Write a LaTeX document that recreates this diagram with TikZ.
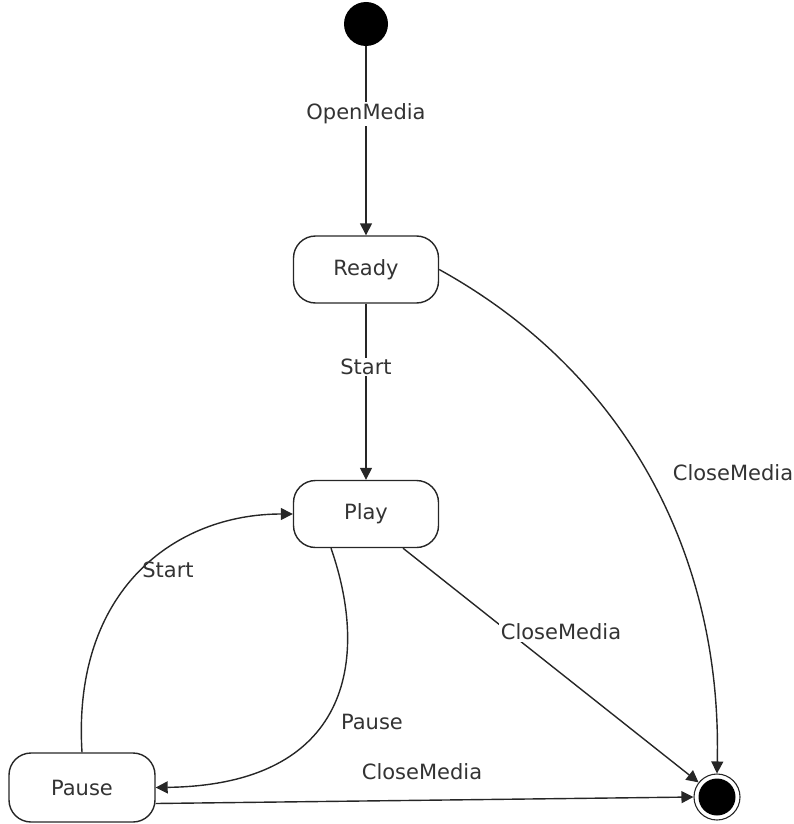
\documentclass[tikz,border=0pt]{standalone}
\usepackage{fontspec}
\setmainfont{DejaVu Sans}
\usetikzlibrary{arrows.meta}
\begin{document}
\begin{tikzpicture}[x=1pt,y=-1pt,
  lbl/.style={font=\fontsize{21}{25}\selectfont, text=black!80, inner sep=1.5pt},
  state/.style={draw=black!85, line width=1.4pt, rounded corners=22pt,
    minimum width=145pt, minimum height=67pt, inner sep=0pt,
    font=\fontsize{21}{25}\selectfont, text=black!80},
  initst/.style={circle, fill=black, minimum size=44pt, inner sep=0pt},
  finalst/.style={circle, draw=black!85, line width=1.1pt, minimum size=46pt, inner sep=0pt,
    path picture={\fill[black] (path picture bounding box.center) circle (18.5pt);}},
  arr/.style={draw=black!85, line width=1.4pt, -{Triangle[length=12pt,width=12pt]}}
]
\useasboundingbox (0,0) rectangle (794,824);

\node[initst] (init) at (366,24) {};
\node[state] (ready) at (366,269.5) {Ready};
\node[state] (play) at (366,514) {Play};
\node[state, minimum width=146pt, minimum height=69pt] (pause) at (82,787.5) {Pause};
\node[finalst] (final) at (717,797) {};

\draw[arr] (init) -- (ready);
\draw[arr] (ready) -- (play);
\draw[arr] (ready.east) .. controls (630,375) and (722,560) .. (final.north);
\draw[arr] ([xshift=37pt]play.south) -- (final);
\draw[arr] ([xshift=-35pt]play.south) .. controls (370,660) and (350,785) .. (pause.east);
\draw[arr] (pause.north) .. controls (72,590) and (175,514) .. (play.west);
\draw[arr] ([yshift=-16pt]pause.east) -- (final.west);

\node[lbl, fill=white] (l1) at (366,114) {OpenMedia};
\node[lbl, fill=white] (l2) at (366,367) {Start};
\node[lbl] (l3) at (733,473) {CloseMedia};
\node[lbl, fill=white] (l4) at (561,632) {CloseMedia};
\node[lbl] (l5) at (168,570) {Start};
\node[lbl] (l6) at (372,722) {Pause};
\node[lbl] (l7) at (422,772) {CloseMedia};
\end{tikzpicture}
\end{document}
